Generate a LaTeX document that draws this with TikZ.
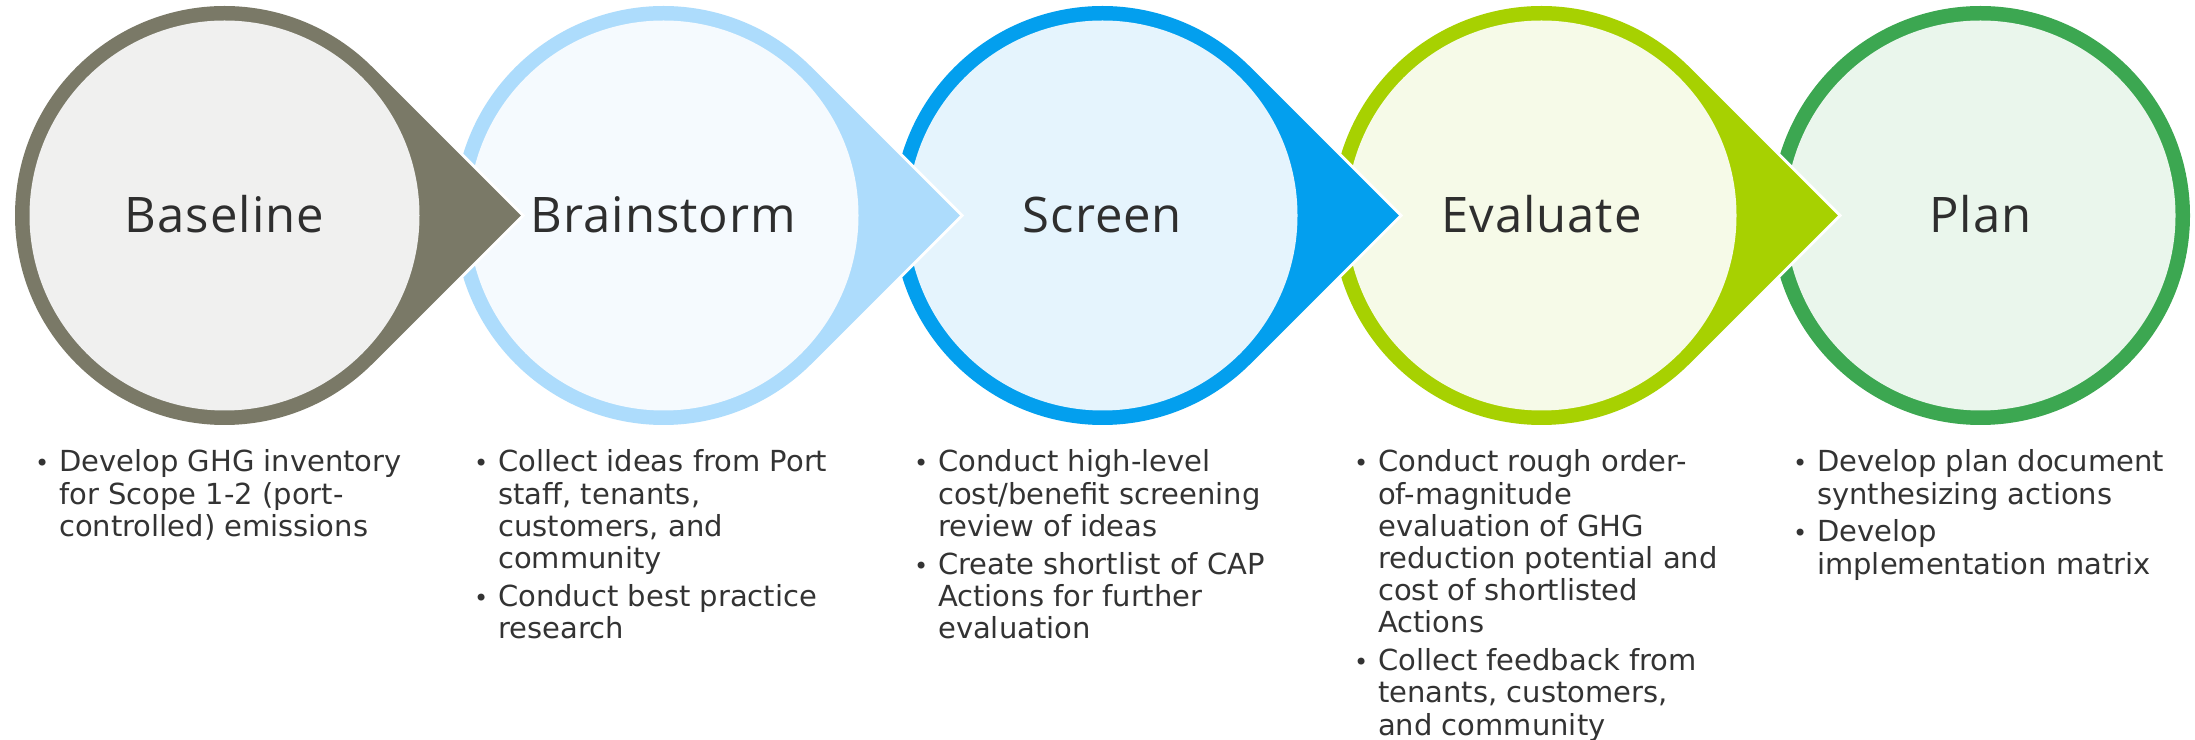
\documentclass[tikz,border=0pt]{standalone}
\usepackage{fontspec}
\setmainfont{DejaVu Sans}
\newfontfamily\titlefont[LetterSpace=2]{Open Sans}
\definecolor{ringA}{HTML}{7A7967}
\definecolor{fillA}{HTML}{F0F0EF}
\definecolor{ringB}{HTML}{ADDCFC}
\definecolor{fillB}{HTML}{F5FAFE}
\definecolor{ringC}{HTML}{039FEE}
\definecolor{fillC}{HTML}{E5F4FD}
\definecolor{ringD}{HTML}{A7D101}
\definecolor{fillD}{HTML}{F6FAE8}
\definecolor{ringE}{HTML}{3CA751}
\definecolor{fillE}{HTML}{EAF6EC}
\definecolor{titlecol}{HTML}{2E2E2E}
\definecolor{bodycol}{HTML}{333333}
\newcommand\bulletglyph{{\fontsize{24}{24}\selectfont •}}
\newcommand\bl[1]{\hbox{\llap{\bulletglyph\hspace{10pt}}#1}}
\newcommand\cl[1]{\hbox{#1}}
\newcommand\tear[3]{%
  \path[preaction={draw=white,line width=6pt}, fill=#2, shift={(#1,523.5)}]
    (296.28,0) -- (45:209.5) arc[start angle=45,end angle=315,radius=209.5] -- cycle;
  \fill[#3] (#1,523.5) circle[radius=195];}
\tikzset{
  titlenode/.style={anchor=base, inner sep=0pt, text=titlecol,
    font=\titlefont\fontsize{49}{58}\selectfont},
  bodynode/.style={anchor=base west, inner sep=0pt, text=bodycol,
    font=\fontsize{29}{32.2}\selectfont},
}
\begin{document}
\begin{tikzpicture}[x=1pt,y=1pt]
\useasboundingbox (0,0) rectangle (2195,739);
% Plan
\fill[ringE] (1980.5,523.5) circle[radius=209.5];
\fill[fillE] (1980.5,523.5) circle[radius=195];
% Evaluate, Screen, Brainstorm, Baseline (right to left so arrows overlap)
\tear{1541.5}{ringD}{fillD}
\tear{1102.5}{ringC}{fillC}
\tear{663.5}{ringB}{fillB}
\tear{224.5}{ringA}{fillA}
% titles
\node[titlenode] (t1) at (224.5,506) {Baseline};
\node[titlenode] (t2) at (663.5,506) {Brainstorm};
\node[titlenode] (t3) at (1102.5,506) {Screen};
\node[titlenode] (t4) at (1541.5,506) {Evaluate};
\node[titlenode] (t5) at (1980.5,506) {Plan};
% bodies
\node[bodynode] (b1) at (59,267) {\vtop{\baselineskip=32.2pt
  \bl{Develop GHG inventory}\cl{for Scope 1-2 (port-}\cl{controlled) emissions}}};
\node[bodynode] (b2) at (498,267) {\vtop{\baselineskip=32.2pt
  \bl{Collect ideas from Port}\cl{staff, tenants,}\cl{customers, and}\cl{community}
  \vskip5.6pt
  \bl{Conduct best practice}\cl{research}}};
\node[bodynode] (b3) at (938,267) {\vtop{\baselineskip=32.2pt
  \bl{Conduct high-level}\cl{cost/benefit screening}\cl{review of ideas}
  \vskip5.6pt
  \bl{Create shortlist of CAP}\cl{Actions for further}\cl{evaluation}}};
\node[bodynode] (b4) at (1378,267) {\vtop{\baselineskip=32.2pt
  \bl{Conduct rough order-}\cl{of-magnitude}\cl{evaluation of GHG}\cl{reduction potential and}\cl{cost of shortlisted}\cl{Actions}
  \vskip5.6pt
  \bl{Collect feedback from}\cl{tenants, customers,}\cl{and community}}};
\node[bodynode] (b5) at (1817,267) {\vtop{\baselineskip=32.2pt
  \bl{Develop plan document}\cl{synthesizing actions}
  \vskip5.6pt
  \bl{Develop}\cl{implementation matrix}}};
\end{tikzpicture}
\end{document}
